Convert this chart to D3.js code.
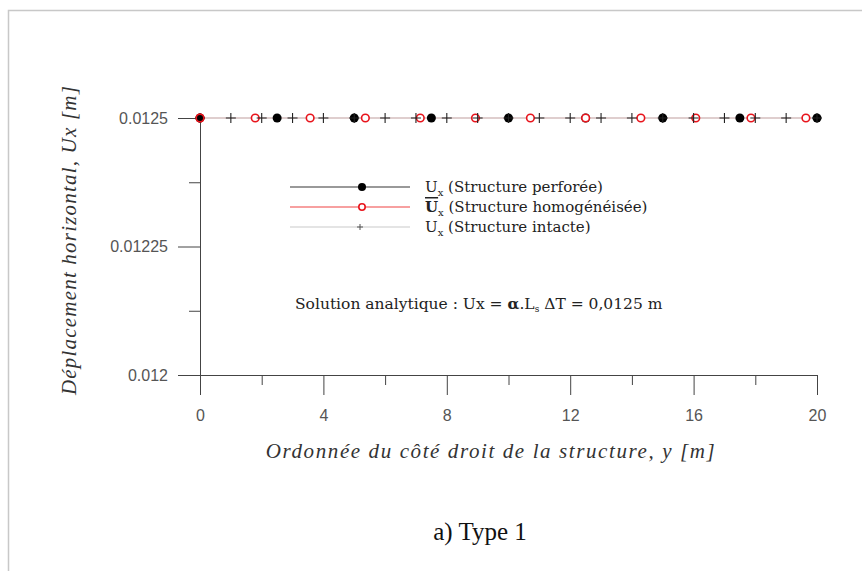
<html>
<head>
<meta charset="utf-8">
<title>Type 1</title>
<style>
  body { margin: 0; background: #fff; }
  .tick text { font-family: "Liberation Sans", Arial, sans-serif; font-size: 16px; fill: #555; }
  .axis path, .axis line { stroke: #444; }
  .serif { font-family: "Liberation Serif", "DejaVu Serif", serif; }
  .wide { font-family: "DejaVu Serif", serif; }
</style>
</head>
<body>
<script src="https://d3js.org/d3.v7.min.js"></script>
<script>
// values
var perforeeX = [0, 2.5, 5, 7.5, 10, 12.5, 15, 17.5, 20];
var perforeeY = [0.0125, 0.0125, 0.0125, 0.0125, 0.0125, 0.0125, 0.0125, 0.0125, 0.0125];
var homogX = [0, 1.79, 3.57, 5.36, 7.14, 8.93, 10.71, 12.5, 14.29, 16.07, 17.86, 19.64];
var homogY = [0.0125, 0.0125, 0.0125, 0.0125, 0.0125, 0.0125, 0.0125, 0.0125, 0.0125, 0.0125, 0.0125, 0.0125];
var intacteX = [0, 1, 2, 3, 4, 5, 6, 7, 8, 9, 10, 11, 12, 13, 14, 15, 16, 17, 18, 19, 20];
var intacteY = intacteX.map(function() { return 0.0125; });
var xMajor = [0, 4, 8, 12, 16, 20];
var xMinor = [2, 6, 10, 14, 18];
var yMajor = [0.012, 0.01225, 0.0125];
var yMinor = [0.012125, 0.012375];

var W = 862, H = 571;
var svg = d3.select("body").append("svg").attr("width", W).attr("height", H);

// page frame
svg.append("path").attr("d", "M8.5,571V10.5H862").attr("fill", "none").attr("stroke", "#c8c8c8").attr("stroke-width", 1.5);

var x = d3.scaleLinear().domain([0, 20]).range([200, 817]);
var y = d3.scaleLinear().domain([0.012, 0.0125]).range([375, 118]);

// axes
svg.append("g").attr("class", "axis").attr("transform", "translate(0,375)")
  .call(d3.axisBottom(x).tickValues(xMinor).tickSize(10).tickFormat(""))
  .call(function(g) { g.select(".domain").remove(); });
svg.append("g").attr("class", "axis").attr("transform", "translate(0,375)")
  .call(d3.axisBottom(x).tickValues(xMajor).tickSize(20).tickSizeOuter(0).tickPadding(15).tickFormat(d3.format("d")));
svg.append("g").attr("class", "axis").attr("transform", "translate(200,0)")
  .call(d3.axisLeft(y).tickValues(yMinor).tickSize(11).tickFormat(""))
  .call(function(g) { g.select(".domain").remove(); });
svg.append("g").attr("class", "axis").attr("transform", "translate(200,0)")
  .call(d3.axisLeft(y).tickValues(yMajor).tickSize(22).tickSizeOuter(0).tickPadding(10).tickFormat(function(d) { return String(+d.toFixed(5)); }));

// series lines
var series = [
  {xs: perforeeX, ys: perforeeY, color: "#999"},
  {xs: homogX, ys: homogY, color: "#f7a0a0"},
  {xs: intacteX, ys: intacteY, color: "#dcdcdc"}
];
var line = d3.line().x(function(d) { return x(d[0]); }).y(function(d) { return y(d[1]); });
series.forEach(function(s) {
  svg.append("path").datum(d3.zip(s.xs, s.ys))
    .attr("d", line).attr("fill", "none").attr("stroke", s.color).attr("stroke-width", 1.5);
});

// markers
svg.append("g").selectAll("circle").data(d3.zip(perforeeX, perforeeY)).join("circle")
  .attr("cx", function(d) { return x(d[0]); }).attr("cy", function(d) { return y(d[1]); })
  .attr("r", 4.5).attr("fill", "#000");
svg.append("g").selectAll("circle").data(d3.zip(homogX, homogY)).join("circle")
  .attr("cx", function(d) { return x(d[0]); }).attr("cy", function(d) { return y(d[1]); })
  .attr("r", 3.8).attr("fill", "#fff").attr("stroke", "#e8141c").attr("stroke-width", 1.6);
svg.append("g").selectAll("path").data(d3.zip(intacteX, intacteY)).join("path")
  .attr("d", function(d) { var cx = x(d[0]), cy = y(d[1]);
    return "M" + (cx - 5) + "," + cy + "H" + (cx + 5) + "M" + cx + "," + (cy - 5) + "V" + (cy + 5); })
  .attr("stroke", "#222").attr("stroke-width", 1.1);
// red marker at origin sits under the black one
svg.append("circle").attr("cx", x(0)).attr("cy", y(0.0125)).attr("r", 4.5).attr("fill", "#e8141c");
svg.append("circle").attr("cx", x(0)).attr("cy", y(0.0125)).attr("r", 3).attr("fill", "#000");

// legend
var legend = [
  {label: "(Structure perforée)", color: "#999", mark: "dot", bar: false},
  {label: "(Structure homogénéisée)", color: "#f7a0a0", mark: "ring", bar: true},
  {label: "(Structure intacte)", color: "#e4e4e4", mark: "plus", bar: false}
];
legend.forEach(function(l, i) {
  var ly = 187 + i * 20;
  svg.append("line").attr("x1", 290).attr("x2", 410).attr("y1", ly).attr("y2", ly)
    .attr("stroke", l.color).attr("stroke-width", 2);
  if (l.mark === "dot") svg.append("circle").attr("cx", 362).attr("cy", ly).attr("r", 4).attr("fill", "#000");
  if (l.mark === "ring") svg.append("circle").attr("cx", 362).attr("cy", ly).attr("r", 3.2).attr("fill", "#fff").attr("stroke", "#e8141c").attr("stroke-width", 1.6);
  if (l.mark === "plus") svg.append("path").attr("d", "M357," + ly + "h6M360," + (ly - 3) + "v6").attr("stroke", "#555");
  var t = svg.append("text").attr("class", "wide").attr("x", 425).attr("y", ly + 5)
    .attr("font-size", 15).attr("fill", "#222");
  t.append("tspan").text("U").attr("font-weight", l.bar ? "bold" : null)
    .attr("text-decoration", l.bar ? "overline" : null);
  t.append("tspan").text("x").attr("font-size", 10).attr("dy", 4);
  t.append("tspan").text(" " + l.label).attr("dy", -4);
});

// analytic solution
var sol = svg.append("text").attr("class", "wide").attr("x", 295).attr("y", 309)
  .attr("font-size", 15.5).attr("fill", "#222");
sol.append("tspan").text("Solution analytique : Ux = ");
sol.append("tspan").text("α").attr("font-weight", "bold");
sol.append("tspan").text(".L");
sol.append("tspan").text("s").attr("font-size", 9).attr("dy", 3);
sol.append("tspan").text(" ΔT = 0,0125 m").attr("dy", -3);

// axis titles
svg.append("text").attr("class", "serif")
  .attr("transform", "translate(76,240) rotate(-90)")
  .attr("text-anchor", "middle").attr("font-size", 21).attr("font-style", "italic")
  .attr("letter-spacing", 1.2).attr("fill", "#333")
  .text("Déplacement horizontal, Ux  [m]");
svg.append("text").attr("class", "serif")
  .attr("x", 491).attr("y", 458)
  .attr("text-anchor", "middle").attr("font-size", 21).attr("font-style", "italic")
  .attr("letter-spacing", 1.6).attr("fill", "#333")
  .text("Ordonnée du côté droit de la structure, y  [m]");

// caption
svg.append("text").attr("class", "serif")
  .attr("x", 480).attr("y", 540).attr("text-anchor", "middle")
  .attr("font-size", 25).attr("fill", "#111")
  .text("a) Type 1");
</script>
</body>
</html>
